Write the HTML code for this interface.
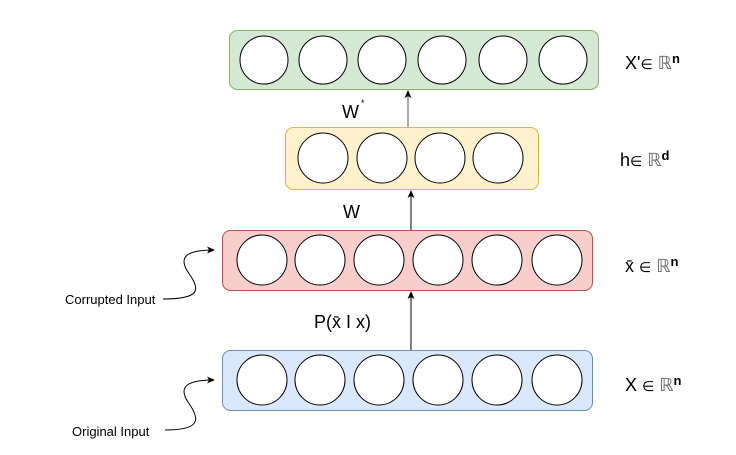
<!DOCTYPE html>
<html><head><meta charset="utf-8"><style>body{margin:0;background:#fff}svg{display:block}</style></head><body>
<svg width="736" height="455" viewBox="0 0 736 455" xmlns="http://www.w3.org/2000/svg" font-family="Liberation Sans, sans-serif">
<defs><marker id="a" markerWidth="8" markerHeight="8" refX="7" refY="4" orient="auto" markerUnits="userSpaceOnUse"><path d="M0,0.5 L8,4 L0,7.5 L2,4 Z" fill="#000"/></marker></defs>
<rect x="229.5" y="30.5" width="369" height="59" rx="8" fill="#d5e8d4" stroke="#82b366"/>
<rect x="285.5" y="127.5" width="253" height="62" rx="8" fill="#fff2cc" stroke="#d6b656"/>
<rect x="222.5" y="230.5" width="370" height="60" rx="8" fill="#f8cecc" stroke="#b85450"/>
<rect x="222.5" y="350.5" width="370" height="60" rx="8" fill="#dae8fc" stroke="#6c8ebf"/>
<g fill="#fff" stroke="#000">
<circle cx="264" cy="60" r="24"/><circle cx="323" cy="60" r="24"/><circle cx="382" cy="60" r="24"/><circle cx="442" cy="60" r="24"/><circle cx="503" cy="60" r="24"/><circle cx="563" cy="60" r="24"/>
<circle cx="323" cy="158" r="25"/><circle cx="382" cy="158" r="25"/><circle cx="440" cy="158" r="25"/><circle cx="498" cy="158" r="25"/>
<circle cx="262" cy="260" r="25"/><circle cx="320" cy="260" r="25"/><circle cx="379" cy="260" r="25"/><circle cx="438" cy="260" r="25"/><circle cx="497" cy="260" r="25"/><circle cx="557" cy="260" r="25"/>
<circle cx="262" cy="380" r="25"/><circle cx="320" cy="380" r="25"/><circle cx="379" cy="380" r="25"/><circle cx="438" cy="380" r="25"/><circle cx="497" cy="380" r="25"/><circle cx="557" cy="380" r="25"/>
</g>
<g stroke="#000" fill="none">
<line x1="411" y1="350" x2="411" y2="292" marker-end="url(#a)"/>
<line x1="411" y1="230" x2="411" y2="191" marker-end="url(#a)"/>
<line x1="408" y1="127" x2="408" y2="91" stroke="#555" marker-end="url(#a)"/>
<path d="M163,299 C200,299 200,290 190,275 C175,255 190,250 214,250" marker-end="url(#a)"/>
<path d="M165,430 C200,430 200,420 190,405 C175,385 190,380 214,380" marker-end="url(#a)"/>
</g>
<g font-size="18" fill="#000">
<text x="342" y="118">W</text><text x="361" y="106" font-size="9">*</text>
<text x="343" y="218">W</text>
<text x="314" y="328">P(x̄ I x)</text>
<text x="625" y="69">X'<tspan font-size="14">∈</tspan> <tspan font-family="Liberation Serif, serif" fill="#666">ℝ</tspan><tspan font-size="13" font-weight="bold" dy="-6">n</tspan></text>
<text x="620" y="166">h<tspan font-size="14">∈</tspan> <tspan font-family="Liberation Serif, serif" fill="#666">ℝ</tspan><tspan font-size="13" font-weight="bold" dy="-6">d</tspan></text>
<text x="625" y="272">x̄ <tspan font-size="14">∈</tspan> <tspan font-family="Liberation Serif, serif" fill="#666">ℝ</tspan><tspan font-size="13" font-weight="bold" dy="-6">n</tspan></text>
<text x="625" y="391">X <tspan font-size="14">∈</tspan> <tspan font-family="Liberation Serif, serif" fill="#666">ℝ</tspan><tspan font-size="13" font-weight="bold" dy="-6">n</tspan></text>
</g>
<text x="65" y="304" font-size="13">Corrupted Input</text>
<text x="72" y="436" font-size="13">Original Input</text>
</svg>
</body></html>
